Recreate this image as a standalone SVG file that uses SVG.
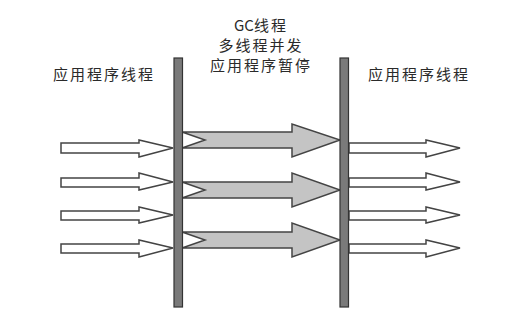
<svg xmlns="http://www.w3.org/2000/svg" width="514" height="320" viewBox="0 0 514 320">
<style>
  text { font-family: "Noto Sans CJK SC", "Liberation Sans", sans-serif; font-size: 15px; fill: #2a2a2a; letter-spacing: 2px; text-anchor: middle; dominant-baseline: central; }
  .tight { letter-spacing: 0px; }
  .bar { fill: #7a7a7a; stroke: #333; stroke-width: 1.2; }
  .white { fill: #ffffff; stroke: #444; stroke-width: 1.5; stroke-linejoin: miter; }
  .gray { fill: #c4c4c4; stroke: #444; stroke-width: 1.5; stroke-linejoin: miter; }
</style>
<rect width="514" height="320" fill="#ffffff"/>
<g id="labels">
  <text x="104" y="73">应用程序线程</text>
  <text x="419" y="73">应用程序线程</text>
  <text x="261" y="24"><tspan class="tight">GC</tspan>线程</text>
  <text x="261" y="44">多线程并发</text>
  <text x="261" y="64">应用程序暂停</text>
</g>
<g id="connectors">
  <g id="left-arrows">
    <polygon class="white" points="61,143 139,143 139,140 173,148 139,157 139,153 61,153"/>
    <polygon class="white" points="61,178 139,178 139,173 173,182 139,190 139,187 61,187"/>
    <polygon class="white" points="61,211 139,211 139,207 173,215 139,223 139,220 61,220"/>
    <polygon class="white" points="61,244 139,244 139,240 173,248 139,257 139,253 61,253"/>
  </g>
  <g id="gc-arrows">
    <polygon class="gray" points="182,132 292,132 292,124 340,140 292,157 292,148 182,148 205,140"/>
    <polygon class="gray" points="182,182 292,182 292,173 340,190 292,207 292,198 182,198 205,190"/>
    <polygon class="gray" points="182,232 292,232 292,223 340,240 292,257 292,248 182,248 205,240"/>
  </g>
  <g id="right-arrows">
    <polygon class="white" points="349,143 426,143 426,140 460,148 426,157 426,153 349,153"/>
    <polygon class="white" points="349,178 426,178 426,173 460,182 426,190 426,187 349,187"/>
    <polygon class="white" points="349,211 426,211 426,207 460,215 426,223 426,220 349,220"/>
    <polygon class="white" points="349,244 426,244 426,240 460,248 426,257 426,253 349,253"/>
  </g>
</g>
<g id="left-bar">
  <rect class="bar" x="174" y="58" width="8.5" height="249"/>
</g>
<g id="right-bar">
  <rect class="bar" x="340" y="58" width="8.5" height="249"/>
</g>
</svg>
